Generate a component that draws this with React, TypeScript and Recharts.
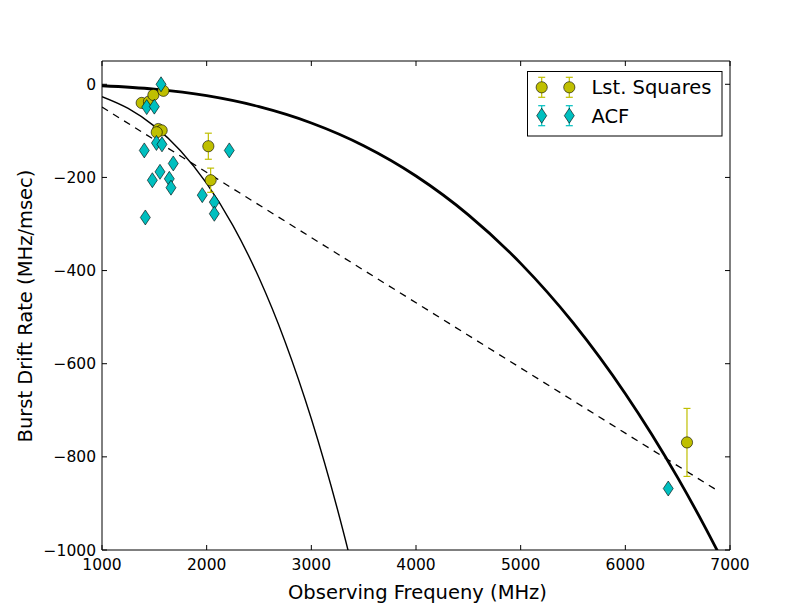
import React from 'react';
import {
  ComposedChart,
  XAxis,
  YAxis,
  Line,
  Scatter,
  ErrorBar,
  Legend,
  ReferenceLine,
} from 'recharts';

// Frequencies (MHz) and drift rates (MHz/msec)
const lsqFreq = [1379, 1449, 1491, 1586, 1538, 1570, 1523, 2016, 2038, 6589];
const lsqRate = [-40, -37, -23, -14, -96, -99, -103, -133, -206, -769];
const lsqErr = [0, 0, 0, 0, 0, 0, 0, 28, 26, 73];

const acfFreq = [1564, 1427, 1500, 1520, 1573, 1404, 2216, 1681, 1554, 1481, 1643, 1659, 1958, 2073, 2073, 1414, 6410];
const acfRate = [0, -49, -48, -126, -129, -142, -142, -170, -188, -206, -203, -222, -238, -253, -278, -286, -868];

// Thick solid model curve
const thickFreq = [1000, 1500, 2000, 2500, 3000, 3500, 4000, 4500, 5000, 5500, 6000, 6250, 6500, 6750, 6900];
const thickRate = [-3.1, -10.4, -24.6, -48.1, -83.1, -131.9, -196.9, -280.3, -384.5, -511.8, -664.4, -751, -844.7, -946, -1010.5];

// Thin solid model curve
const thinFreq = [1000, 1250, 1500, 1750, 2000, 2250, 2500, 2750, 3000, 3250, 3350, 3400];
const thinRate = [-26.6, -51.9, -89.8, -142.6, -212.8, -303.0, -415.6, -553.2, -718.2, -913.1, -1000, -1046];

// Dashed linear model
const dashFreq = [1000, 6870];
const dashRate = [-49, -871];

const xTicks = [1000, 2000, 3000, 4000, 5000, 6000, 7000];
const yTicks = [-1000, -800, -600, -400, -200, 0];
const xMin = 1000;
const xMax = 7000;
const yMin = -1000;
const yMax = 50;

const lsqData = lsqFreq.map((x, i) => ({ x, y: lsqRate[i], err: lsqErr[i] }));
const acfData = acfFreq.map((x, i) => ({ x, y: acfRate[i] }));
const thickData = thickFreq.map((x, i) => ({ x, y: thickRate[i] }));
const thinData = thinFreq.map((x, i) => ({ x, y: thinRate[i] }));
const dashData = dashFreq.map((x, i) => ({ x, y: dashRate[i] }));

const FONT = 'DejaVu Sans';
const YEL = '#bfbf00';
const CYAN = '#00bfbf';
const TICK = 5;

// plot frame (pixels inside the svg)
const PL = 102;
const PR = 730;
const PT = 61;
const PB = 550;

const fmt = (v: number) => (v < 0 ? '\u2212' + Math.abs(v) : String(v));

const BottomTick = (p: any) => (
  <g>
    <line x1={p.x} x2={p.x} y1={PB} y2={PB - TICK} stroke="#000" strokeWidth={1} />
    <line x1={p.x} x2={p.x} y1={PT} y2={PT + TICK} stroke="#000" strokeWidth={1} />
    <text x={p.x} y={PB + 20} textAnchor="middle" fontSize={15.5} fontFamily={FONT} fill="#000">
      {fmt(p.payload.value)}
    </text>
  </g>
);
const LeftTick = (p: any) => (
  <g>
    <line x1={PL} x2={PL + TICK} y1={p.y} y2={p.y} stroke="#000" strokeWidth={1} />
    <line x1={PR} x2={PR - TICK} y1={p.y} y2={p.y} stroke="#000" strokeWidth={1} />
    <text x={PL - 6} y={p.y + 5.5} textAnchor="end" fontSize={15.5} fontFamily={FONT} fill="#000">
      {fmt(p.payload.value)}
    </text>
  </g>
);

const Circle = (p: any) =>
  p.cx == null ? null : (
    <circle cx={p.cx} cy={p.cy} r={5.6} fill={YEL} stroke="#000" strokeWidth={0.6} />
  );
const Diamond = (p: any) =>
  p.cx == null ? null : (
    <polygon
      points={`${p.cx},${p.cy - 7.5} ${p.cx + 5},${p.cy} ${p.cx},${p.cy + 7.5} ${p.cx - 5},${p.cy}`}
      fill={CYAN}
      stroke="#000"
      strokeWidth={0.6}
    />
  );

const LegendMarker = ({ x, y, kind }: { x: number; y: number; kind: 'c' | 'd' }) => {
  const color = kind === 'c' ? YEL : CYAN;
  return (
    <g>
      <line x1={x} x2={x} y1={y - 10} y2={y + 10} stroke={color} strokeWidth={1.2} />
      <line x1={x - 3.5} x2={x + 3.5} y1={y - 10} y2={y - 10} stroke={color} strokeWidth={1.2} />
      <line x1={x - 3.5} x2={x + 3.5} y1={y + 10} y2={y + 10} stroke={color} strokeWidth={1.2} />
      {kind === 'c' ? (
        <circle cx={x} cy={y} r={5.6} fill={YEL} stroke="#000" strokeWidth={0.6} />
      ) : (
        <polygon
          points={`${x},${y - 7.5} ${x + 5},${y} ${x},${y + 7.5} ${x - 5},${y}`}
          fill={CYAN}
          stroke="#000"
          strokeWidth={0.6}
        />
      )}
    </g>
  );
};

const LegendBox = () => (
  <svg width={196} height={66} style={{ display: 'block' }}>
    <rect x={0.5} y={0.5} width={194.5} height={64.5} fill="#fff" stroke="#000" strokeWidth={1} />
    <LegendMarker x={14.7} y={16.3} kind="c" />
    <LegendMarker x={42.3} y={16.3} kind="c" />
    <text x={64.5} y={23.3} fontSize={19.5} fontFamily={FONT} fill="#000">Lst. Squares</text>
    <LegendMarker x={14.7} y={44.7} kind="d" />
    <LegendMarker x={42.3} y={44.7} kind="d" />
    <text x={64.5} y={51.7} fontSize={19.5} fontFamily={FONT} fill="#000">ACF</text>
  </svg>
);

const XLabel = () => (
  <text x={417.5} y={599} textAnchor="middle" fontSize={19.5} fontFamily={FONT} fill="#000">
    Observing Frequeny (MHz)
  </text>
);
const YLabel = () => (
  <text
    x={32}
    y={306}
    transform="rotate(-90 32 306)"
    textAnchor="middle"
    fontSize={19.5}
    fontFamily={FONT}
    fill="#000"
  >
    Burst Drift Rate (MHz/msec)
  </text>
);

export default function App() {
  return (
    <div style={{ position: 'absolute', left: 0, top: 0, width: 812, height: 612, background: '#fff', fontFamily: FONT }}>
      <ComposedChart width={812} height={612} margin={{ top: 61, right: 82, bottom: 32, left: 42 }}>
        <XAxis
          dataKey="x"
          type="number"
          domain={[xMin, xMax]}
          ticks={xTicks}
          allowDataOverflow
          height={30}
          tickSize={0}
          tickMargin={0}
          tick={<BottomTick />}
          tickLine={false}
          axisLine={{ stroke: '#000', strokeWidth: 1 }}
          label={() => <XLabel />}
        />
        <YAxis
          dataKey="y"
          type="number"
          domain={[yMin, yMax]}
          ticks={yTicks}
          allowDataOverflow
          width={60}
          tickSize={0}
          tickMargin={0}
          tick={<LeftTick />}
          tickLine={false}
          axisLine={{ stroke: '#000', strokeWidth: 1 }}
          label={() => <YLabel />}
        />
        <Line
          data={thickData}
          dataKey="y"
          type="monotone"
          stroke="#000"
          strokeWidth={2.8}
          dot={false}
          activeDot={false}
          isAnimationActive={false}
          legendType="none"
        />
        <Line
          data={thinData}
          dataKey="y"
          type="monotone"
          stroke="#000"
          strokeWidth={1.4}
          dot={false}
          activeDot={false}
          isAnimationActive={false}
          legendType="none"
        />
        <Line
          data={dashData}
          dataKey="y"
          type="linear"
          stroke="#000"
          strokeWidth={1.3}
          strokeDasharray="7 6"
          dot={false}
          activeDot={false}
          isAnimationActive={false}
          legendType="none"
        />
        <Scatter name="Lst. Squares" data={lsqData} dataKey="y" shape={<Circle />} isAnimationActive={false}>
          <ErrorBar dataKey="err" direction="y" width={3.5} stroke={YEL} strokeWidth={1.2} />
        </Scatter>
        <Scatter name="ACF" data={acfData} dataKey="y" shape={<Diamond />} isAnimationActive={false} />
        <ReferenceLine y={yMax} stroke="#000" strokeWidth={1} ifOverflow="extendDomain" />
        <ReferenceLine x={xMax} stroke="#000" strokeWidth={1} ifOverflow="extendDomain" />
        <Legend
          layout="horizontal"
          verticalAlign="middle"
          align="center"
          content={() => <LegendBox />}
          wrapperStyle={{ position: 'absolute', left: 527, top: 71, width: 196, height: 66 }}
        />
      </ComposedChart>
    </div>
  );
}
